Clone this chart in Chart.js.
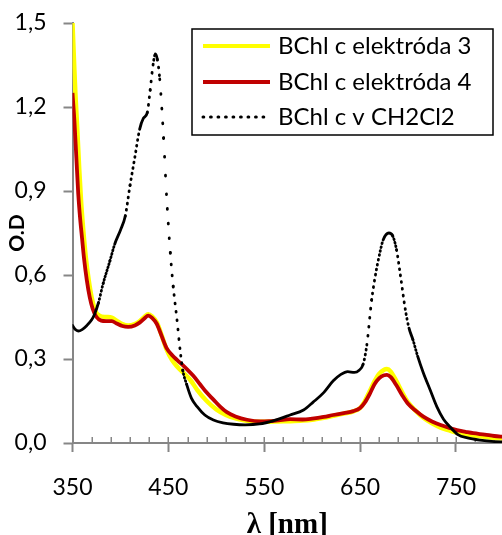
<!DOCTYPE html>
<html><head><meta charset="utf-8">
<script src="https://cdn.jsdelivr.net/npm/chart.js@4"></script>
<style>html,body{margin:0;padding:0;background:#fff}#wrap{width:502px;height:535px}</style>
</head><body><div id="wrap"><canvas id="c" width="502" height="535"></canvas></div>
<script>
const seriesNames = ['BChl c elektróda 3', 'BChl c elektróda 4', 'BChl c v CH2Cl2'];
const xTickValues = [350, 450, 550, 650, 750];
const yTickValues = [0, 0.3, 0.6, 0.9, 1.2, 1.5];

// BChl c elektróda 3 (yellow)
const waveE3 = [350,352,353,355,357,359,361,364,367,370,374,378,385,391,396,402,408,415,420,425,429,433,438,443,448,454,460,466,473,480,490,500,510,520,530,542,555,565,577,590,600,612,622,633,643,650,655,660,665,670,675,678,682,688,694,700,708,716,725,734,743,751,760,768,780,790,800];
const odE3   = [1.50,1.33,1.25,1.12,0.98,0.86,0.77,0.66,0.58,0.52,0.47,0.455,0.45,0.448,0.437,0.425,0.42,0.425,0.435,0.45,0.46,0.452,0.43,0.385,0.335,0.295,0.27,0.25,0.225,0.19,0.15,0.12,0.10,0.088,0.08,0.076,0.076,0.077,0.078,0.08,0.083,0.09,0.097,0.105,0.113,0.125,0.15,0.185,0.22,0.248,0.262,0.264,0.255,0.22,0.18,0.145,0.115,0.09,0.07,0.055,0.045,0.037,0.031,0.027,0.022,0.018,0.016];

// BChl c elektróda 4 (red)
const waveE4 = [350,352,354,356,358,360,362,365,368,371,375,380,385,391,396,402,408,415,420,425,429,433,438,441,448,455,459,469,476,483,490,497,504,511,520,532,546,555,565,577,590,600,612,622,633,643,650,655,660,665,670,675,678,682,688,694,700,708,716,725,734,743,751,760,768,780,790,800];
const odE4   = [1.25,1.15,1.02,0.89,0.80,0.73,0.66,0.58,0.52,0.48,0.45,0.437,0.435,0.435,0.427,0.418,0.415,0.42,0.43,0.445,0.455,0.447,0.425,0.40,0.34,0.31,0.297,0.265,0.24,0.21,0.18,0.155,0.13,0.11,0.095,0.083,0.077,0.078,0.081,0.085,0.084,0.087,0.093,0.10,0.107,0.114,0.125,0.145,0.175,0.21,0.232,0.242,0.243,0.235,0.205,0.17,0.14,0.115,0.094,0.077,0.064,0.054,0.046,0.04,0.035,0.03,0.025,0.022];

// BChl c v CH2Cl2 (black)
const waveCH = [350,353,356,360,365,370,373,377,382,389,394,400,405,410,415,420,424,428,431,434,436.5,438.5,441,445,448,452,455,459,462,465,469,474,480,488,497,507,518,530,545,560,577,591,601,612,622,630,637,644,649,653,657,662,666,670,674,680,684,688,692,697,701,705,710,716,723,730,737,744,752,762,775,790,800];
const odCH   = [0.42,0.405,0.40,0.405,0.42,0.44,0.46,0.50,0.57,0.65,0.71,0.76,0.81,0.92,1.02,1.12,1.16,1.18,1.26,1.35,1.39,1.37,1.30,1.09,0.89,0.68,0.56,0.44,0.34,0.26,0.21,0.16,0.13,0.10,0.082,0.072,0.067,0.065,0.068,0.08,0.10,0.118,0.146,0.18,0.222,0.245,0.255,0.252,0.26,0.28,0.35,0.51,0.60,0.67,0.725,0.75,0.74,0.69,0.60,0.48,0.41,0.37,0.31,0.25,0.19,0.13,0.085,0.057,0.03,0.018,0.01,0.005,0.004];

const toXY = (xs, ys) => xs.map((x, i) => ({x: x, y: ys[i]}));

// Excel-like dotted line: dots spread where the curve is steep, solid where flat
function dottedSegment(ctx) {
  const p0 = ctx.p0, p1 = ctx.p1;
  const dl = Math.abs(p1.parsed.x - p0.parsed.x) || 1;
  const len = Math.hypot(p1.x - p0.x, p1.y - p0.y);
  const per = len / dl;
  if (per < 3.3) return undefined;
  return [0.8, Math.round((per - 0.8) * 10) / 10];
}

const minorTicks = {
  id: 'minorTicks',
  beforeDatasetsDraw(chart) {
    const ctx = chart.ctx, xs = chart.scales.x, yb = chart.chartArea.bottom;
    ctx.save();
    ctx.strokeStyle = '#868686';
    ctx.lineWidth = 1.5;
    ctx.beginPath();
    for (let v = xs.min; v < xs.max; v += 20) {
      const px = Math.round(xs.getPixelForValue(v)) + 0.25;
      ctx.moveTo(px, yb);
      ctx.lineTo(px, yb - 6);
    }
    ctx.stroke();
    ctx.restore();
  }
};

const boxLegend = {
  id: 'boxLegend',
  afterDraw(chart) {
    const ctx = chart.ctx;
    const left = 192, top = 29, right = 493, bottom = 135;
    ctx.save();
    ctx.fillStyle = '#fff';
    ctx.fillRect(left, top, right - left, bottom - top);
    ctx.strokeStyle = '#000';
    ctx.lineWidth = 1.5;
    ctx.strokeRect(left, top, right - left, bottom - top);
    const rows = [46, 82, 117];
    chart.data.datasets.forEach((ds, i) => {
      const y = rows[i];
      ctx.beginPath();
      ctx.strokeStyle = ds.borderColor;
      if (ds.legendDotted) {
        ctx.lineWidth = 3;
        ctx.lineCap = 'round';
        ctx.setLineDash([0.8, 6.7]);
      } else {
        ctx.lineWidth = 4;
        ctx.lineCap = 'butt';
        ctx.setLineDash([]);
      }
      ctx.moveTo(203, y);
      ctx.lineTo(270, y);
      ctx.stroke();
      ctx.setLineDash([]);
      ctx.fillStyle = '#000';
      ctx.font = '24px Lato';
      ctx.textBaseline = 'middle';
      ctx.textAlign = 'left';
      ctx.fillText(ds.label, 278, y);
    });
    ctx.restore();
  }
};

new Chart(document.getElementById('c'), {
  type: 'line',
  data: {
    datasets: [
      {label: seriesNames[0], data: toXY(waveE3, odE3), borderColor: '#FFFF00', borderWidth: 4.5, pointRadius: 0, cubicInterpolationMode: 'monotone', order: 3},
      {label: seriesNames[1], data: toXY(waveE4, odE4), borderColor: '#C00000', borderWidth: 3.8, pointRadius: 0, cubicInterpolationMode: 'monotone', order: 2},
      {label: seriesNames[2], data: toXY(waveCH, odCH), borderColor: '#000000', borderWidth: 2.8, pointRadius: 0, cubicInterpolationMode: 'monotone', order: 1,
       borderCapStyle: 'round', legendDotted: true, segment: {borderDash: dottedSegment}}
    ]
  },
  options: {
    responsive: false,
    animation: false,
    devicePixelRatio: 1,
    layout: {padding: {top: 23, right: 0, left: 0, bottom: 0}},
    plugins: {legend: {display: false}, tooltip: {enabled: false}},
    scales: {
      x: {
        type: 'linear', min: 350, max: 798,
        afterBuildTicks: s => { s.ticks = xTickValues.map(v => ({value: v})); },
        afterFit: s => { s.height = 92; },
        border: {color: '#868686', width: 2},
        grid: {drawOnChartArea: false, drawTicks: true, tickLength: 9, tickColor: '#868686', tickWidth: 2},
        ticks: {font: {family: 'Lato', size: 23}, color: '#000', padding: 22, maxRotation: 0, autoSkip: false},
        title: {display: true, text: 'λ [nm]', font: {family: 'Liberation Serif', size: 29, weight: 'bold', lineHeight: 0.65}, color: '#000', padding: 0}
      },
      y: {
        type: 'linear', min: 0, max: 1.5,
        afterBuildTicks: s => { s.ticks = yTickValues.map(v => ({value: v})); },
        afterFit: s => { s.width = 72.5; s.paddingTop = 0; s.paddingBottom = 0; },
        border: {color: '#868686', width: 2},
        grid: {drawOnChartArea: false, drawTicks: true, tickLength: 9, tickColor: '#868686', tickWidth: 2},
        ticks: {font: {family: 'Lato', size: 23}, color: '#000', padding: 17, callback: v => v.toFixed(1).replace('.', ',')},
        title: {display: true, text: 'O.D', font: {family: 'Lato', size: 21, weight: 'bold', lineHeight: 1.67}, color: '#000', padding: 0}
      }
    }
  },
  plugins: [minorTicks, boxLegend]
});
</script>
</body></html>
